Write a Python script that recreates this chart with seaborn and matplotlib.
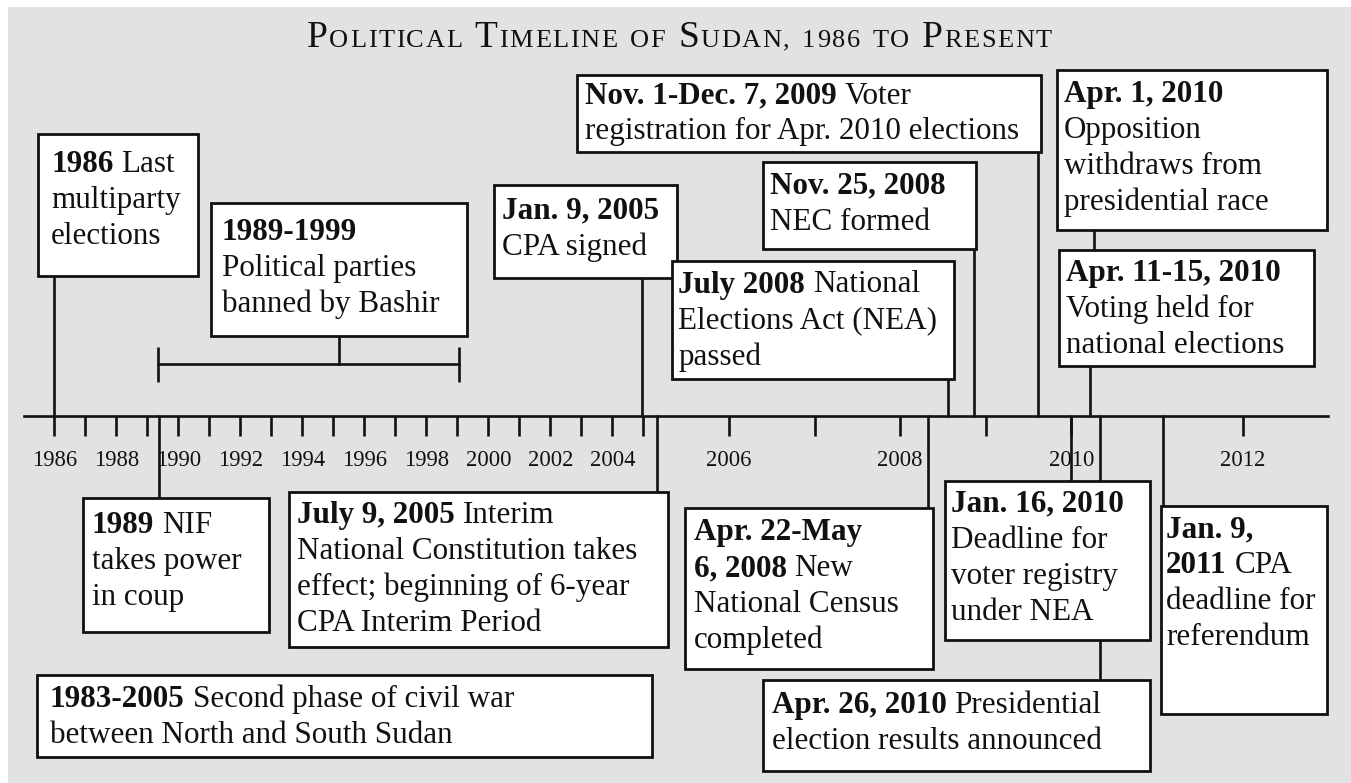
import numpy as np
import pandas as pd
import matplotlib
matplotlib.use("Agg")
import matplotlib.pyplot as plt
import seaborn as sns
from matplotlib.patches import Rectangle

# ---------------- data ----------------
title_text = "Political Timeline of Sudan, 1986 to Present"
tick_years = [y for y in range(1986, 2013) if y != 2011]
tick_labels = [str(y) if y % 2 == 0 else "" for y in tick_years]

# event dates (decimal years)
event_names = ["1986", "1989-1999", "Jan 2005", "Nov-Dec 2009", "Nov 2008", "Jul 2008",
               "Apr 1 2010", "Apr 11-15 2010", "1989", "Jul 2005", "Apr-May 2008",
               "Jan 16 2010", "Jan 2011", "1983-2005", "Apr 26 2010"]
event_dates = [1986.0, None, 2004.96, 2009.61, 2008.86, 2008.56,
               2010.26, 2010.22, 1989.39, 2005.16, 2008.33,
               2010.0, 2011.07, None, 2010.33]
bracket_span = [1989.33, 1999.04]

# box texts: lines of (text, bold)
event_texts = [
    [[("1986", True), ("Last", False)], [("multiparty", False)], [("elections", False)]],
    [[("1989-1999", True)], [("Political parties", False)], [("banned by Bashir", False)]],
    [[("Jan. 9, 2005", True)], [("CPA signed", False)]],
    [[("Nov. 1-Dec. 7, 2009", True), ("Voter", False)], [("registration for Apr. 2010 elections", False)]],
    [[("Nov. 25, 2008", True)], [("NEC formed", False)]],
    [[("July 2008", True), ("National", False)], [("Elections Act (NEA)", False)], [("passed", False)]],
    [[("Apr. 1, 2010", True)], [("Opposition", False)], [("withdraws from", False)], [("presidential race", False)]],
    [[("Apr. 11-15, 2010", True)], [("Voting held for", False)], [("national elections", False)]],
    [[("1989", True), ("NIF", False)], [("takes power", False)], [("in coup", False)]],
    [[("July 9, 2005", True), ("Interim", False)], [("National Constitution takes", False)],
     [("effect; beginning of 6-year", False)], [("CPA Interim Period", False)]],
    [[("Apr. 22-May", True)], [("6, 2008", True), ("New", False)], [("National Census", False)], [("completed", False)]],
    [[("Jan. 16, 2010", True)], [("Deadline for", False)], [("voter registry", False)], [("under NEA", False)]],
    [[("Jan. 9,", True)], [("2011", True), ("CPA", False)], [("deadline for", False)], [("referendum", False)]],
    [[("1983-2005", True), ("Second phase of civil war", False)], [("between North and South Sudan", False)]],
    [[("Apr. 26, 2010", True), ("Presidential", False)], [("election results announced", False)]],
]

# ---------------- layout (pixels) ----------------
W, H = 1351, 783
AXIS_Y = 416
X0, PRE, POST = 54.3, 31.0, 85.6
box_rects = [  # x0, y0, x1, y1
    (38, 134, 198, 276), (211, 203, 467, 336), (494, 185, 677, 278), (577, 75, 1040.5, 151.5),
    (763, 162, 976, 248.5), (672, 261, 954, 378.5), (1057, 69.5, 1326.5, 229.5), (1059, 249.5, 1313.5, 366),
    (82.6, 497.7, 269.2, 631.7), (289.3, 492, 668.3, 646.5), (684.5, 507.5, 932.5, 669), (945, 480.7, 1150, 640),
    (1160.6, 505.7, 1327, 714), (37, 675.3, 651.8, 757.3), (763.4, 680, 1150.2, 770.7),
]
text_anchor = [
    (51, 172), (222, 240), (502, 218.5), (585, 103.5), (769.5, 193.5), (678.5, 292.5), (1064, 101.7),
    (1066, 280.7), (91.5, 532.7), (297, 523.3), (693.5, 540), (951, 511.7), (1166, 537.3), (50, 707.3),
    (771.5, 712.7),
]
stem_ends = [  # y range of each stem
    (AXIS_Y, 276), None, (AXIS_Y, 278), (AXIS_Y, 151.5), (AXIS_Y, 248.5), (AXIS_Y, 378.5),
    (249.5, 229.5), (AXIS_Y, 366), (AXIS_Y, 497.7), (AXIS_Y, 492), (AXIS_Y, 507.5),
    (AXIS_Y, 480.7), (AXIS_Y, 505.7), None, (AXIS_Y, 680),
]
BG = "#e1e2e4"
INK = "#111111"
FS = 22.4        # box text size (pt)
LS = 36          # line spacing (px)
LW = 1.9


def fwd(y):
    y = np.asarray(y, dtype=float)
    return np.where(y <= 2005, X0 + (y - 1986) * PRE, X0 + 19 * PRE + (y - 2005) * POST)


def inv(p):
    p = np.asarray(p, dtype=float)
    b = X0 + 19 * PRE
    return np.where(p <= b, 1986 + (p - X0) / PRE, 2005 + (p - b) / POST)


sns.set_theme(style="white")
plt.rcParams["font.family"] = ["Liberation Serif", "DejaVu Serif"]

fig = plt.figure(figsize=(W / 100, H / 100), dpi=100, facecolor="white")
ax = fig.add_axes([0, 0, 1, 1])
ax.set_facecolor("none")
lay = fig.add_axes([0, 0, 1, 1])
lay.set_facecolor("none")
lay.axis("off")
lay.set_xlim(0, W)
lay.set_ylim(H, 0)

ax.add_patch(Rectangle((8, 7), W - 8, H - 7, transform=lay.transData, fc=BG, ec="none", zorder=0))

# stems via seaborn
rows = []
for name, d, se in zip(event_names, event_dates, stem_ends):
    if d is None or se is None:
        continue
    rows.append({"event": name, "x": d, "y": se[0]})
    rows.append({"event": name, "x": d, "y": se[1]})
stems = pd.DataFrame(rows)
sns.lineplot(data=stems, x="x", y="y", units="event", estimator=None, sort=False,
             color=INK, lw=LW, ax=ax, legend=False)

# bracket 1989-1999
by, bh = 364.3, 17.5
sns.lineplot(x=bracket_span, y=[by, by], color=INK, lw=LW, ax=ax)
ax.vlines(bracket_span, by - bh, by + bh, color=INK, lw=LW)

ax.set_xscale("function", functions=(fwd, inv))
ax.set_xlim(float(inv(0)), float(inv(W)))
ax.set_ylim(H, 0)
ax.set_xlabel("")
ax.set_ylabel("")
ax.yaxis.set_visible(False)
for s in ["top", "left", "right"]:
    ax.spines[s].set_visible(False)
ax.spines["bottom"].set_position(("data", AXIS_Y))
ax.spines["bottom"].set_bounds(float(inv(24)), float(inv(1327.7)))
ax.spines["bottom"].set_linewidth(LW)
ax.spines["bottom"].set_color(INK)
ax.set_xticks(tick_years)
ax.set_xticklabels(tick_labels)
ax.minorticks_off()
ax.tick_params(axis="x", bottom=True, direction="out", length=14.4, width=LW,
               color=INK, labelcolor=INK, labelsize=16.3, pad=10)

# middle stem of bracket
b = box_rects[1]
lay.plot([(b[0] + b[2]) / 2] * 2, [b[3], by], color=INK, lw=LW, zorder=1)

renderer = fig.canvas.get_renderer()


def rich(x, y, lines):
    gap = FS / 0.72 * 0.25
    for i, segs in enumerate(lines):
        cx = x
        for j, (s, bold) in enumerate(segs):
            t = lay.text(cx, y + i * LS, s, fontsize=FS, fontweight="bold" if bold else "normal",
                         ha="left", va="baseline", color=INK, zorder=3)
            cx += t.get_window_extent(renderer).width + gap


for rect, anchor, lines in zip(box_rects, text_anchor, event_texts):
    x0, y0, x1, y1 = rect
    lay.add_patch(Rectangle((x0, y0), x1 - x0, y1 - y0, fc="white", ec=INK, lw=2.0,
                            joinstyle="miter", zorder=2))
    rich(anchor[0], anchor[1], lines)

# title in small caps, with letter tracking
BIG, SMALL = 27.0, 19.0
TRACK = 1.6
words = [[("P", BIG), ("OLITICAL", SMALL)], [("T", BIG), ("IMELINE", SMALL)], [("OF", SMALL)],
         [("S", BIG), ("UDAN,", SMALL)], [("1986", SMALL)], [("TO", SMALL)], [("P", BIG), ("RESENT", SMALL)]]
wgap = 11.0
arts, cx = [], 0.0
for w in words:
    for s, sz in w:
        for ch in s:
            t = lay.text(cx, 46.7, ch, fontsize=sz, ha="left", va="baseline", color=INK, zorder=3)
            wd = t.get_window_extent(renderer).width
            arts.append((t, cx))
            cx += wd + TRACK
    cx += wgap
total = cx - wgap - TRACK
start = 679.5 - total / 2
for t, px in arts:
    t.set_x(start + px)

fig.savefig("out.png", dpi=100, facecolor="white")
